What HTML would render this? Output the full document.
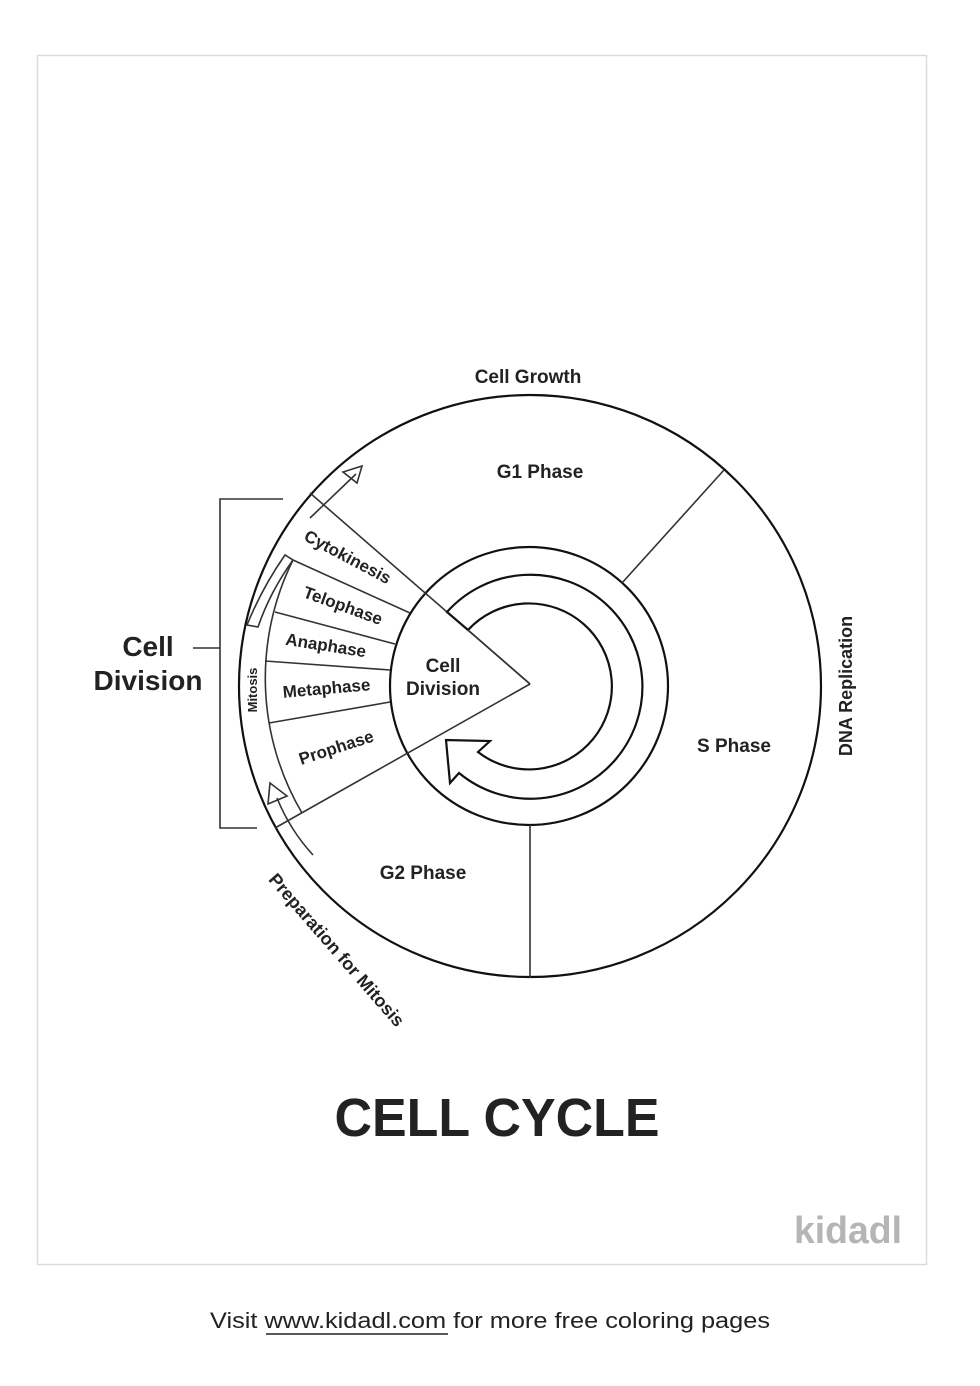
<!DOCTYPE html>
<html><head><meta charset="utf-8"><style>
html,body{margin:0;padding:0;background:#fff;}
svg{display:block;font-family:"Liberation Sans",Arial,sans-serif;}
</style></head><body>
<svg width="980" height="1386" viewBox="0 0 980 1386" xmlns="http://www.w3.org/2000/svg">
<rect x="37.5" y="55.5" width="889" height="1209" fill="none" stroke="#dcdcdc" stroke-width="1.5"/>
<g fill="none" stroke="#111" stroke-width="2.2">
<circle cx="530" cy="686" r="291"/>
<circle cx="529" cy="686" r="139" fill="#fff"/>
</g>
<g fill="none" stroke="#333" stroke-width="1.6">
<line x1="310" y1="493" x2="530" y2="684"/>
<line x1="530" y1="684" x2="275" y2="828"/>
</g>
<g fill="none" stroke="#111" stroke-width="2.2">
<path d="M447,612 A112,112 0 1 1 459,773 L450,783 L446,740 L490,741 L478,752 A83,83 0 1 0 468,630 Z" fill="#fff"/>
</g>
<g fill="none" stroke="#333" stroke-width="1.6">
<line x1="530" y1="684" x2="468" y2="630"/>
<line x1="622" y1="583" x2="724" y2="470"/>
<line x1="530" y1="825" x2="530" y2="978"/>
<path d="M293,560 A266,266 0 0 0 302,813"/>
<line x1="293" y1="560" x2="410" y2="613"/>
<line x1="275" y1="612" x2="395" y2="644"/>
<line x1="265" y1="661" x2="390" y2="670"/>
<line x1="269" y1="723" x2="390" y2="702"/>
<path d="M247,625 Q262,588 285,555 L293,560 Q270,592 258,627 Z"/>
<line x1="310" y1="518" x2="356" y2="474"/>
<path d="M362,466 L343,472 L357,483 Z"/>
<path d="M313,855 Q290,830 277,798"/>
<path d="M270,783 L268,804 L287,796 Z"/>
<polyline points="283,499 220,499 220,828 257,828"/>
<line x1="193" y1="648" x2="220" y2="648"/>
</g>
<g fill="#222" font-weight="bold" text-anchor="middle">
<text x="528" y="383" font-size="19">Cell Growth</text>
<text x="540" y="478" font-size="19">G1 Phase</text>
<text x="734" y="752" font-size="19">S Phase</text>
<text x="423" y="879" font-size="19">G2 Phase</text>
<text x="0" y="0" font-size="18" transform="translate(852,686) rotate(-90)">DNA Replication</text>
<text x="148" y="656" font-size="28">Cell</text>
<text x="148" y="690" font-size="28">Division</text>
<text x="443" y="672" font-size="19">Cell</text>
<text x="443" y="695" font-size="19">Division</text>
<text font-size="17" transform="translate(345,562) rotate(28)">Cytokinesis</text>
<text font-size="17" transform="translate(341,611) rotate(20)">Telophase</text>
<text font-size="17" transform="translate(325,651) rotate(9)">Anaphase</text>
<text font-size="17" transform="translate(327,694) rotate(-5)">Metaphase</text>
<text font-size="17" transform="translate(338,753) rotate(-18)">Prophase</text>
<text font-size="13" transform="translate(257,690) rotate(-90)">Mitosis</text>
<text font-size="18" transform="translate(332,954) rotate(49)">Preparation for Mitosis</text>
<text x="497" y="1136" font-size="54" textLength="325" lengthAdjust="spacingAndGlyphs">CELL CYCLE</text>
</g>
<text x="848" y="1243" font-size="38" font-weight="bold" fill="#b5b5b5" text-anchor="middle" textLength="108" lengthAdjust="spacingAndGlyphs">kidadl</text>
<text x="210" y="1328" font-size="22" fill="#222" textLength="560" lengthAdjust="spacingAndGlyphs">Visit www.kidadl.com for more free coloring pages</text>
<line x1="266" y1="1334" x2="448" y2="1334" stroke="#222" stroke-width="1.5"/>
</svg>
</body></html>
